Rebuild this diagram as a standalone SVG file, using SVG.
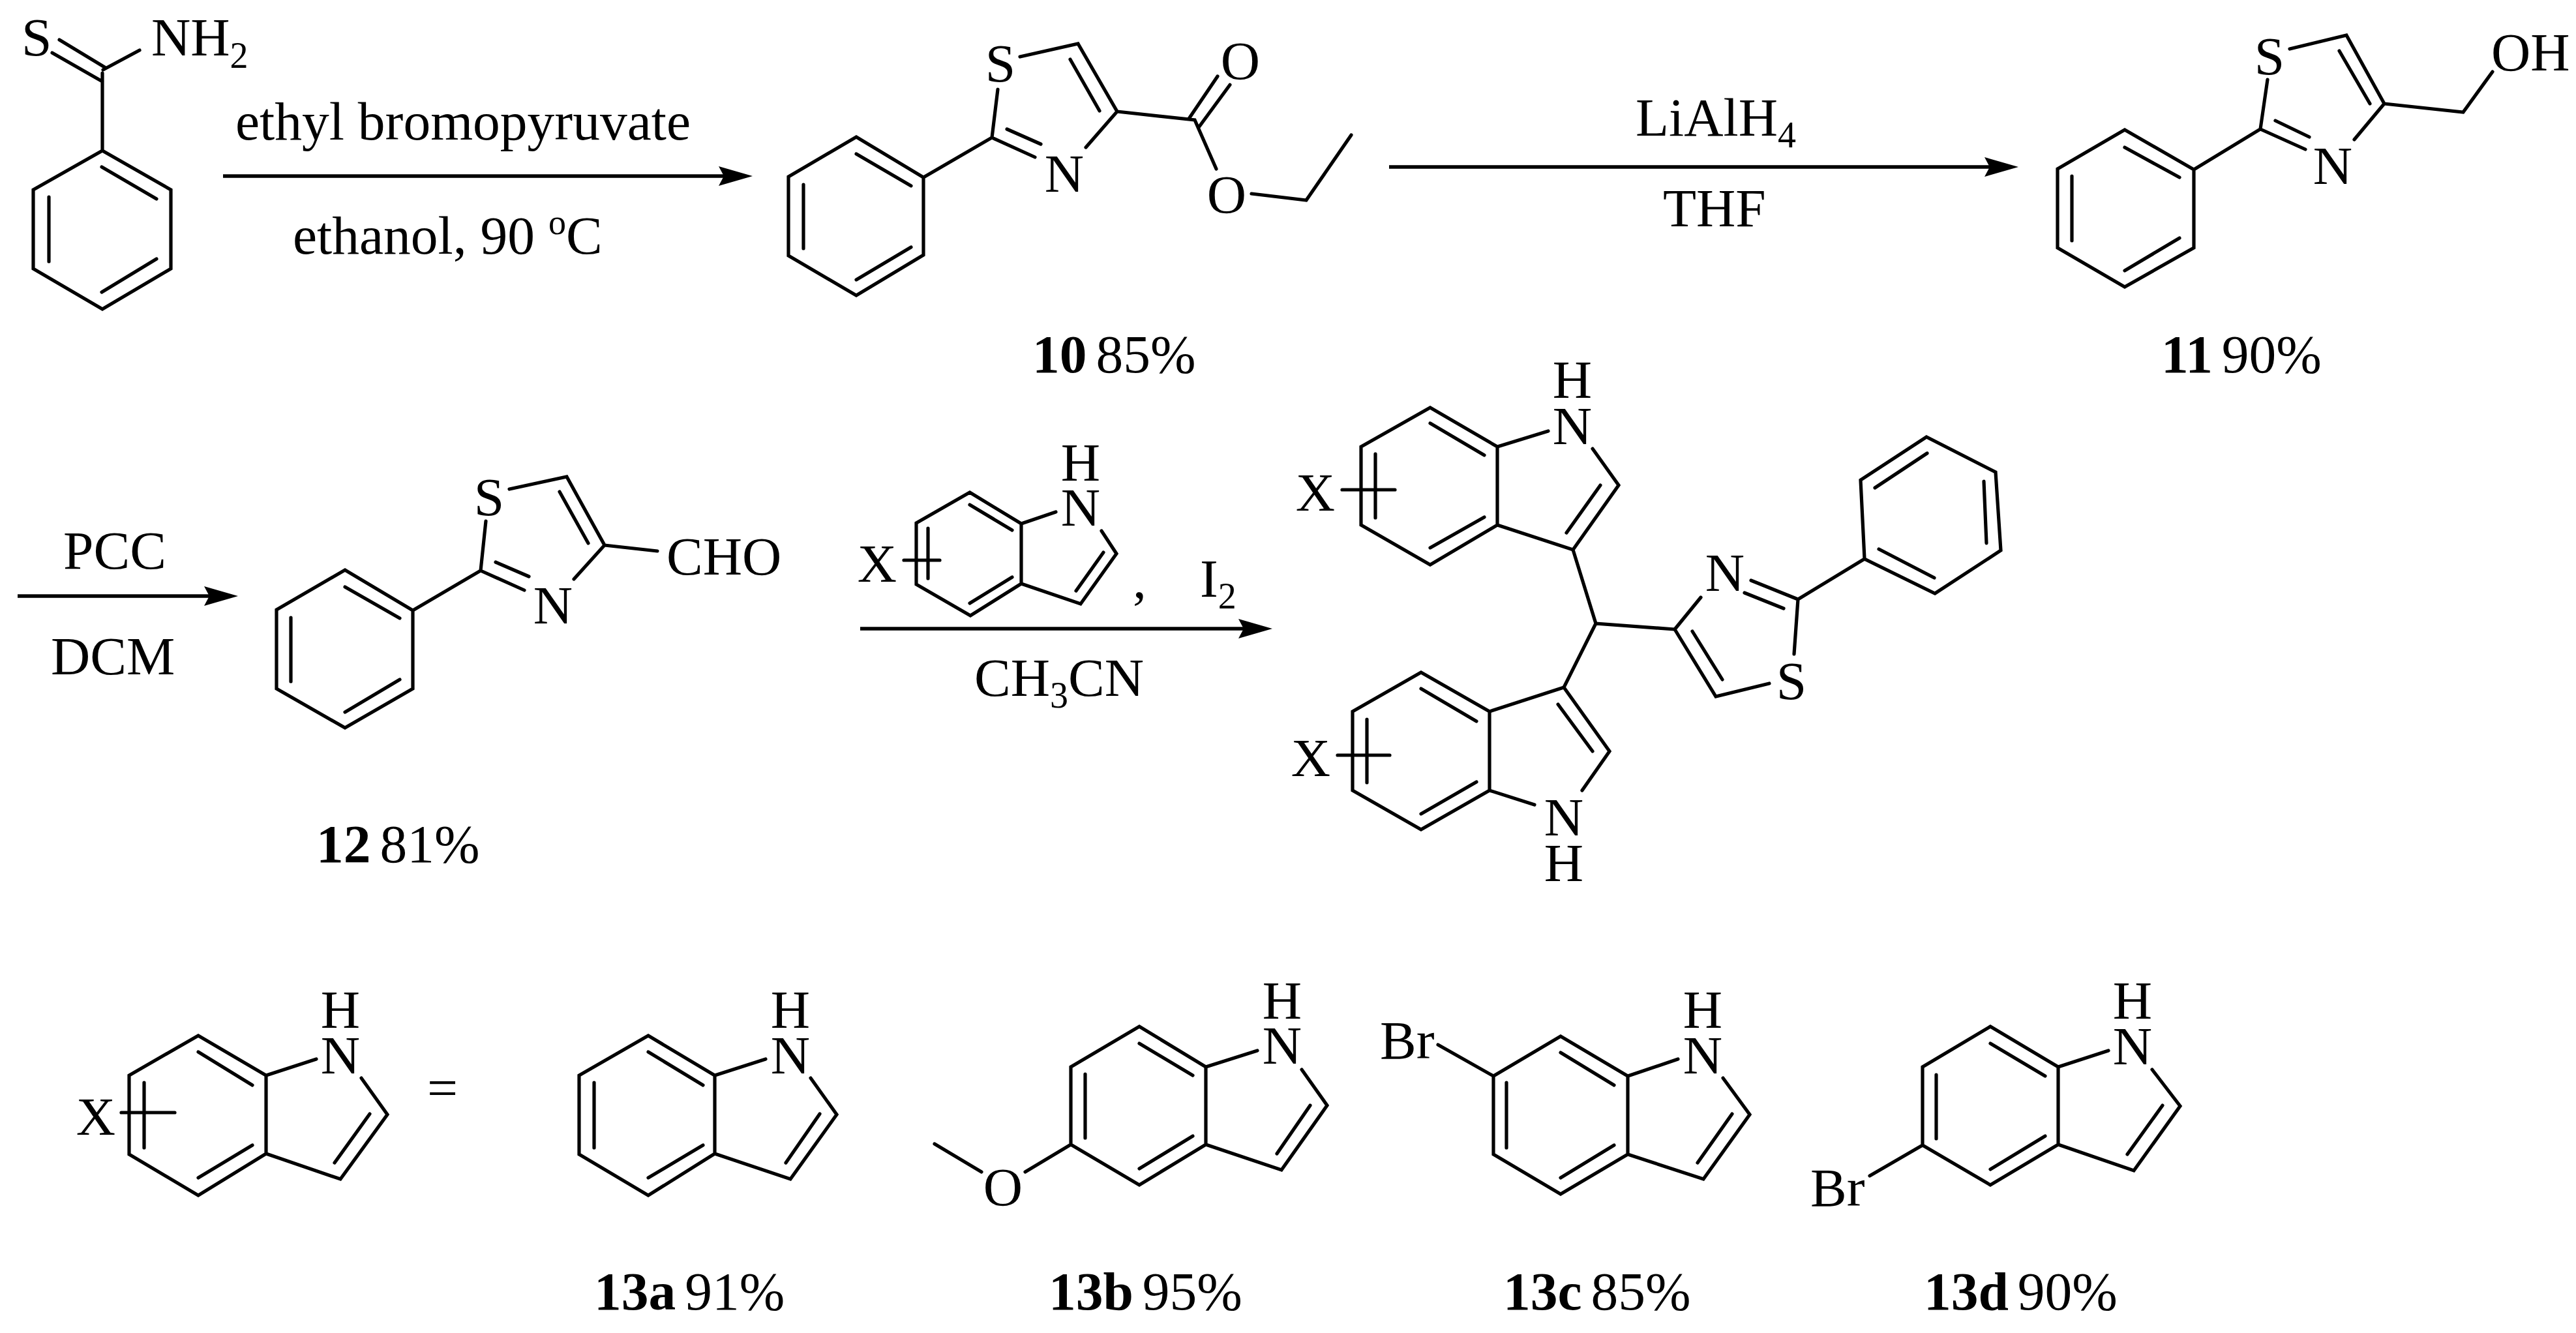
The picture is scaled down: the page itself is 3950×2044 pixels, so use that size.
<svg xmlns="http://www.w3.org/2000/svg" width="3950" height="2044" viewBox="0 0 3950 2044">
<style>
text{font-family:"Liberation Serif","Times New Roman",serif;font-size:83.5px;fill:#000}
.m{text-anchor:middle}
.b{font-weight:bold}
.s{font-size:56px}
path{fill:none;stroke:#000;stroke-width:5.2;stroke-linecap:round;stroke-linejoin:miter}
.a{stroke-width:5.5;stroke-linecap:butt}
.h{fill:#000;stroke:none}
</style>
<defs>
<marker id="arrowhead" markerUnits="userSpaceOnUse" markerWidth="52" markerHeight="30" viewBox="0 0 52 30" refX="22" refY="15" orient="auto"><path class="h" d="M0,0 L52,15 L0,30 L8,15 Z"/></marker>
</defs>
<rect width="3950" height="2044" fill="#fff"/>
<g id="connectors">
<path class="a" d="M342,270H1124" marker-end="url(#arrowhead)"/>
<path class="a" d="M2130,256H3065" marker-end="url(#arrowhead)"/>
<path class="a" d="M27,914H335" marker-end="url(#arrowhead)"/>
<path class="a" d="M1319,964H1921" marker-end="url(#arrowhead)"/>
<text x="361" y="214">ethyl bromopyruvate</text>
<text x="449" y="389">ethanol, 90 <tspan font-size="54" dy="-30">o</tspan><tspan dy="30">C</tspan></text>
<text x="2508" y="208">LiAlH<tspan class="s" dy="18">4</tspan></text>
<text x="2550" y="347">THF</text>
<text x="97" y="872">PCC</text>
<text x="78" y="1034">DCM</text>
<text x="1737" y="917">,</text>
<text x="1840" y="915">I<tspan class="s" dy="18">2</tspan></text>
<text x="1494" y="1067">CH<tspan class="s" dy="18">3</tspan><tspan dy="-18">CN</tspan></text>
</g>
<g id="thiobenzamide">
<path d="M157,231L262,291V412L157,474L51,412V291ZM156,256L240,305M240,397L156,448M75,302V401M157,231V112M91,61L162,104M80,81L157,125M158,107L214,77"/>
<text x="33" y="85">S</text>
<text x="232" y="85">NH<tspan class="s" dy="19">2</tspan></text>
</g>
<g id="compound-10">
<path d="M1313,210L1416,272V391L1313,453L1209,392V271ZM1313,236L1397,285M1397,379L1313,429M1232,283V381M1416,272L1521,211L1530,137M1521,211L1587,241M1544,198L1596,221M1564,87L1653,67L1713,171L1665,226M1641,91L1686,170M1713,171L1832,184L1865,259M1823,182L1867,117M1839,194L1886,130M1919,297L2003,307L2072,207"/>
<text class="m" x="1534" y="125">S</text>
<text class="m" x="1632" y="294">N</text>
<text class="m" x="1902" y="121">O</text>
<text class="m" x="1881" y="326">O</text>
<text x="1583" y="571"><tspan class="b">10</tspan><tspan dx="-7"> 85%</tspan></text>
</g>
<g id="compound-11">
<path d="M3258,199L3364,260V380L3258,440L3155,380V259ZM3258,226L3342,272M3342,365L3258,415M3177,270V369M3364,260L3466,198L3477,122M3466,198L3535,229M3489,185L3541,210M3511,75L3598,54L3656,159L3610,214M3587,78L3634,159M3656,159L3777,172L3822,110"/>
<text class="m" x="3480" y="114">S</text>
<text class="m" x="3577" y="282">N</text>
<text x="3820" y="108">OH</text>
<text x="3314" y="571"><tspan class="b">11</tspan><tspan dx="-7"> 90%</tspan></text>
</g>
<g id="compound-12">
<path d="M529,874L633,936V1056L529,1116L424,1056V935ZM529,900L613,948M613,1042L529,1092M446,947V1045M633,936L737,875L745,799M737,875L804,905M760,862L811,884M781,750L869,731L927,836L880,888M858,754L902,833M927,836L1008,845"/>
<text class="m" x="750" y="790">S</text>
<text class="m" x="848" y="956">N</text>
<text x="1022" y="881">CHO</text>
<text x="485" y="1322"><tspan class="b">12</tspan><tspan dx="-7"> 81%</tspan></text>
</g>
<g id="indole-reagent">
<path d="M1487,755L1566,803V895L1488,944L1405,896V802ZM1487,774L1552,813M1552,885L1487,925M1423,810V887M1566,803L1619,785M1689,814L1712,849L1657,926L1566,895M1692,847L1650,906M1386,859H1441"/>
<text class="m" x="1657" y="806">N</text>
<text class="m" x="1657" y="737">H</text>
<text class="m" x="1345" y="892">X</text>
</g>
<g id="compound-13">
<path d="M2193,625L2296,685V805L2193,866L2087,805V685ZM2193,649L2276,698M2276,793L2193,840M2109,696V794M2296,685L2374,661M2442,688L2482,744L2412,843L2296,805M2454,744L2402,817M2058,751H2139M2412,843L2447,956L2568,965M2447,956L2398,1054"/>
<path d="M2568,965L2608,916M2685,890L2757,919M2675,909L2735,933M2757,919L2751,1003M2713,1048L2631,1068L2568,965M2641,1042L2595,968M2757,919L2859,857M2859,857L2853,736L2954,670L3060,724L3068,844L2967,910ZM2875,748L2955,695M3042,738L3046,833M2881,842L2966,886"/>
<path d="M2284,1091L2179,1031L2074,1091V1212L2179,1272L2284,1212ZM2398,1054L2284,1091M2179,1056L2264,1106M2264,1199L2179,1248M2096,1103V1200M2398,1054L2468,1152L2426,1212M2389,1080L2442,1152M2284,1212L2353,1234M2051,1158H2131"/>
<text class="m" x="2411" y="681">N</text>
<text class="m" x="2411" y="610">H</text>
<text class="m" x="2017" y="783">X</text>
<text class="m" x="2645" y="906">N</text>
<text class="m" x="2747" y="1072">S</text>
<text class="m" x="2398" y="1281">N</text>
<text class="m" x="2398" y="1351">H</text>
<text class="m" x="2010" y="1190">X</text>
</g>
<g id="indole-general">
<path d="M304,1588L408,1649V1769L304,1833L198,1770V1649ZM304,1613L387,1664M387,1756L304,1806M221,1660V1760M408,1649L485,1624M554,1653L594,1709L522,1808L408,1769M567,1708L513,1783M186,1706H268"/>
<text class="m" x="522" y="1646">N</text>
<text class="m" x="522" y="1576">H</text>
<text class="m" x="147" y="1740">X</text>
<text x="655" y="1696">=</text>
</g>
<g id="compound-13a">
<path d="M994,1588L1096,1649V1769L994,1833L888,1770V1649ZM994,1613L1078,1664M1078,1756L994,1806M911,1660V1760M1096,1649L1174,1624M1243,1653L1283,1709L1212,1808L1096,1769M1257,1708L1205,1783"/>
<text class="m" x="1212" y="1646">N</text>
<text class="m" x="1212" y="1576">H</text>
<text x="911" y="2008"><tspan class="b">13a</tspan><tspan dx="-7"> 91%</tspan></text>
</g>
<g id="compound-13b">
<path d="M1747,1574L1849,1636V1755L1747,1817L1642,1755V1636ZM1747,1600L1829,1649M1829,1742L1747,1792M1664,1647V1745M1849,1636L1928,1611M1996,1640L2035,1695L1965,1794L1849,1755M2009,1695L1958,1769M1642,1755L1572,1797M1505,1797L1433,1754"/>
<text class="m" x="1966" y="1631">N</text>
<text class="m" x="1966" y="1562">H</text>
<text class="m" x="1538" y="1848">O</text>
<text x="1608" y="2008"><tspan class="b">13b</tspan><tspan dx="-7"> 95%</tspan></text>
</g>
<g id="compound-13c">
<path d="M2393,1589L2496,1650V1770L2393,1831L2290,1770V1650ZM2393,1614L2475,1664M2475,1756L2393,1806M2310,1660V1760M2496,1650L2573,1624M2642,1653L2683,1709L2612,1808L2496,1770M2656,1708L2603,1783M2205,1602L2290,1650"/>
<text class="m" x="2611" y="1646">N</text>
<text class="m" x="2611" y="1576">H</text>
<text x="2116" y="1623">Br</text>
<text x="2305" y="2008"><tspan class="b">13c</tspan><tspan dx="-7"> 85%</tspan></text>
</g>
<g id="compound-13d">
<path d="M3052,1574L3156,1636V1755L3052,1817L2948,1756V1636ZM3052,1600L3136,1650M3136,1742L3052,1793M2969,1648V1746M3156,1636L3233,1611M3300,1640L3343,1696L3272,1795L3156,1755M3316,1695L3262,1770M2948,1756L2867,1803"/>
<text class="m" x="3270" y="1632">N</text>
<text class="m" x="3270" y="1562">H</text>
<text x="2776" y="1849">Br</text>
<text x="2950" y="2008"><tspan class="b">13d</tspan><tspan dx="-7"> 90%</tspan></text>
</g>
</svg>
